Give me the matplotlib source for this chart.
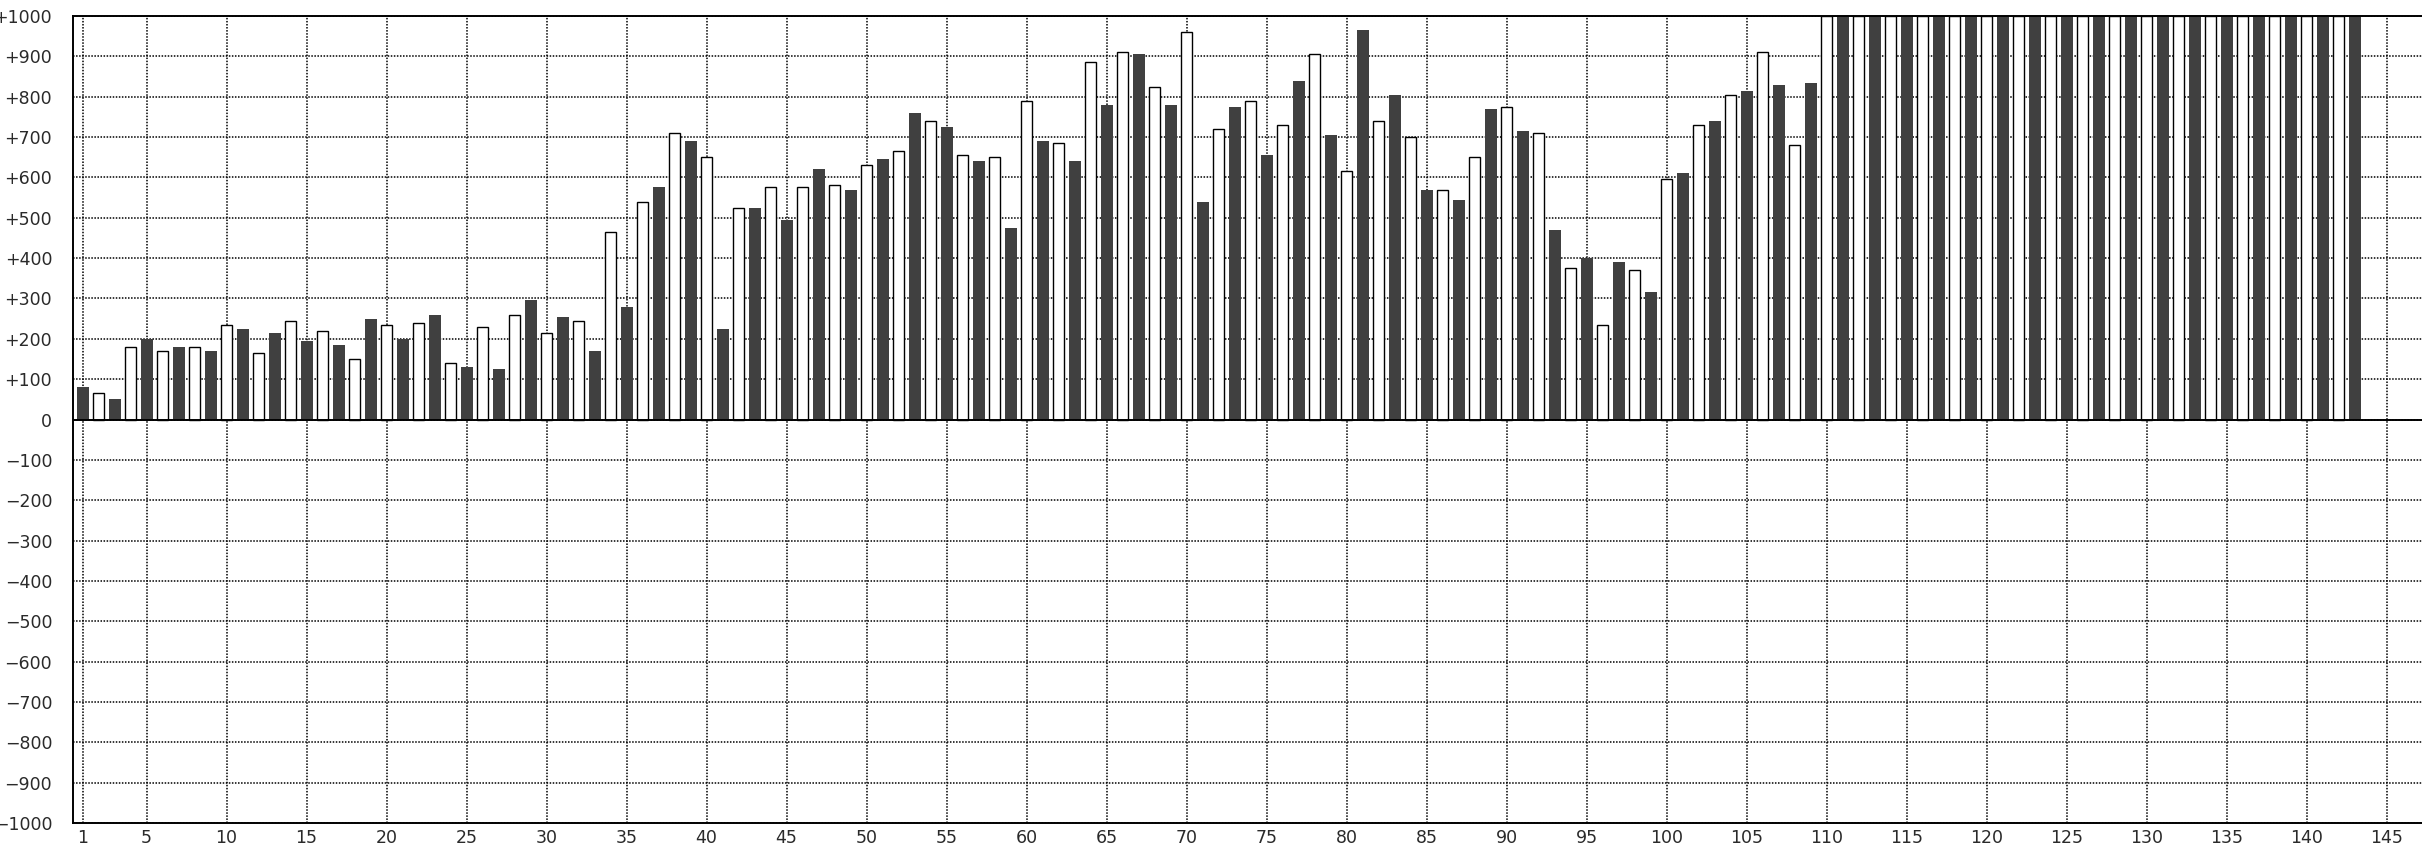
import matplotlib
matplotlib.use('Agg')
import matplotlib.pyplot as plt

# 홀수 번째 막대 (진한 회색)
dark_x = list(range(1, 144, 2))
dark_vals = [80, 50, 200, 180, 170, 225, 215, 195, 185, 250,
             200, 260, 130, 125, 295, 255, 170, 280, 575, 690,
             225, 525, 495, 620, 570, 645, 760, 725, 640, 475,
             690, 640, 780, 905, 780, 540, 775, 655, 840, 705,
             965, 805, 570, 545, 770, 715, 470, 400, 390, 315,
             610, 740, 815, 830, 835,
             1000, 1000, 1000, 1000, 1000, 1000, 1000, 1000, 1000,
             1000, 1000, 1000, 1000, 1000, 1000, 1000, 1000]

# 짝수 번째 막대 (흰색, 검은 테두리)
white_x = list(range(2, 143, 2))
white_vals = [65, 180, 170, 180, 235, 165, 245, 220, 150, 235,
              240, 140, 230, 260, 215, 245, 465, 540, 710, 650,
              525, 575, 575, 580, 630, 665, 740, 655, 650, 790,
              685, 885, 910, 825, 960, 720, 790, 730, 905, 615,
              740, 700, 570, 650, 775, 710, 375, 235, 370, 595,
              730, 805, 910, 680,
              1000, 1000, 1000, 1000, 1000, 1000, 1000, 1000, 1000,
              1000, 1000, 1000, 1000, 1000, 1000, 1000, 1000]

x_ticks = [1, 5, 10, 15, 20, 25, 30, 35, 40, 45, 50, 55, 60, 65, 70, 75,
           80, 85, 90, 95, 100, 105, 110, 115, 120, 125, 130, 135, 140, 145]
y_ticks = [1000, 900, 800, 700, 600, 500, 400, 300, 200, 100, 0,
           -100, -200, -300, -400, -500, -600, -700, -800, -900, -1000]
y_labels = ['+1000', '+900', '+800', '+700', '+600', '+500', '+400', '+300',
            '+200', '+100', '0', '\u2212100', '\u2212200', '\u2212300', '\u2212400',
            '\u2212500', '\u2212600', '\u2212700', '\u2212800', '\u2212900', '\u22121000']

W, H = 2422, 844
fig = plt.figure(figsize=(W / 100, H / 100), dpi=100)
ax = fig.add_axes([73 / W, (H - 823) / H, (W - 73) / W, (823 - 16) / H])

ax.bar(dark_x, dark_vals, width=0.75, color='#404040', zorder=2)
ax.bar(white_x, white_vals, width=0.72, color='white', edgecolor='black',
       linewidth=1.0, zorder=2)
ax.axhline(0, color='black', linewidth=1.4, zorder=3)

ax.set_xlim(0.4, 0.4 + (W - 73) / 16)
ax.set_ylim(-1000, 1000)
ax.set_xticks(x_ticks)
ax.set_yticks(y_ticks)
ax.set_yticklabels(y_labels)
# 점선 격자
ax.grid(True, color='black', linestyle=(0, (1, 1)), linewidth=1.1)
ax.set_axisbelow(True)

ax.tick_params(axis='both', length=0, labelsize=12.5, labelcolor='#2a2a2a')
ax.tick_params(axis='y', pad=15)
ax.tick_params(axis='x', pad=4)

for side in ['top', 'left', 'bottom']:
    ax.spines[side].set_linewidth(1.4)
    ax.spines[side].set_zorder(4)
ax.spines['right'].set_visible(False)

fig.savefig('out.png', dpi=100)
